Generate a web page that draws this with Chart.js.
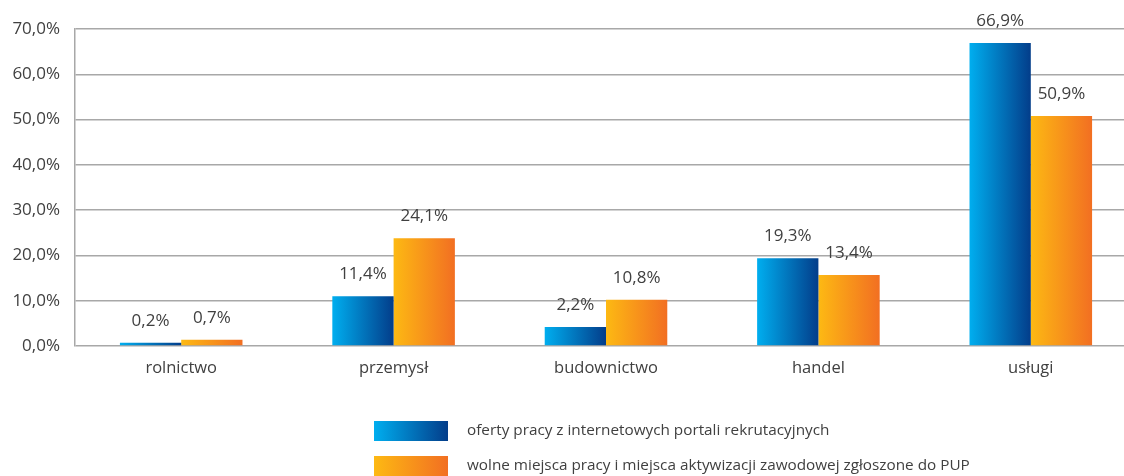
<!DOCTYPE html>
<html>
<head>
<meta charset="utf-8">
<script src="https://cdn.jsdelivr.net/npm/chart.js@4"></script>
<style>
html,body{margin:0;padding:0;background:#fff;overflow:hidden;}
#wrap{position:relative;width:1124px;height:476px;overflow:hidden;}
</style>
</head>
<body>
<div id="wrap"><canvas id="c" width="1140" height="476"></canvas></div>
<script>
const categories = ['rolnictwo', 'przemysł', 'budownictwo', 'handel', 'usługi'];
const seriesNames = ['oferty pracy z internetowych portali rekrutacyjnych', 'wolne miejsca pracy i miejsca aktywizacji zawodowej zgłoszone do PUP'];
const portalValues = [0.7, 11.0, 4.2, 19.4, 66.9];
const pupValues = [1.4, 23.8, 10.2, 15.7, 50.8];
const portalLabels = ['0,2%', '11,4%', '2,2%', '19,3%', '66,9%'];
const pupLabels = ['0,7%', '24,1%', '10,8%', '13,4%', '50,9%'];
const yTicks = [0, 10, 20, 30, 40, 50, 60, 70];

const FONT = '"Open Sans", "DejaVu Sans", sans-serif';
const TEXT = '#404040';
const GRID = '#a8a8a8';
const CAT_PCT = 0.577;
const gradStops = [['#00aeef', '#033d8a'], ['#fdb913', '#f26f22']];

function barGradient(ctx, dsIndex) {
  const chart = ctx.chart;
  const stops = gradStops[dsIndex];
  if (!chart.chartArea || ctx.dataIndex === undefined) return stops[0];
  const xs = chart.scales.x;
  const cw = (xs.right - xs.left) / categories.length;
  const bw = cw * CAT_PCT / 2;
  const cx = xs.getPixelForValue(ctx.dataIndex);
  const left = dsIndex === 0 ? cx - bw : cx;
  const g = chart.ctx.createLinearGradient(left, 0, left + bw, 0);
  g.addColorStop(0, stops[0]);
  g.addColorStop(1, stops[1]);
  return g;
}

const valueLabels = {
  id: 'valueLabels',
  afterDatasetsDraw(chart) {
    const c = chart.ctx;
    const lists = [portalLabels, pupLabels];
    c.save();
    c.font = '17px ' + FONT;
    c.fillStyle = TEXT;
    c.textAlign = 'center';
    c.textBaseline = 'middle';
    chart.data.datasets.forEach((ds, i) => {
      chart.getDatasetMeta(i).data.forEach((el, j) => {
        c.fillText(lists[i][j], el.x, el.y - 22);
      });
    });
    c.restore();
  }
};

const customLegend = {
  id: 'customLegend',
  afterDraw(chart) {
    const c = chart.ctx;
    c.save();
    c.font = '15.3px ' + FONT;
    c.textBaseline = 'middle';
    c.textAlign = 'left';
    const rows = [421, 456];
    seriesNames.forEach((name, i) => {
      const y = rows[i];
      const g = c.createLinearGradient(374, 0, 448, 0);
      g.addColorStop(0, gradStops[i][0]);
      g.addColorStop(1, gradStops[i][1]);
      c.fillStyle = g;
      c.fillRect(374, y, 74, 20);
      c.fillStyle = TEXT;
      c.fillText(name, 467, y + 10);
    });
    c.restore();
  }
};

new Chart(document.getElementById('c'), {
  type: 'bar',
  data: {
    labels: categories,
    datasets: [
      { label: seriesNames[0], data: portalValues, backgroundColor: ctx => barGradient(ctx, 0), borderWidth: 0 },
      { label: seriesNames[1], data: pupValues, backgroundColor: ctx => barGradient(ctx, 1), borderWidth: 0 }
    ]
  },
  options: {
    responsive: false,
    animation: false,
    events: [],
    layout: { padding: { top: 29, right: 3, bottom: 90, left: 0 } },
    datasets: { bar: { categoryPercentage: CAT_PCT, barPercentage: 1.0 } },
    plugins: { legend: { display: false }, tooltip: { enabled: false } },
    scales: {
      x: {
        grid: { display: false, drawTicks: false },
        border: { display: false },
        ticks: { color: TEXT, font: { family: FONT, size: 16.5 }, padding: 12 },
        afterFit: s => { s.height = 40; }
      },
      y: {
        min: 0, max: 70,
        afterBuildTicks: s => { s.ticks = yTicks.map(v => ({ value: v })); },
        grid: { color: GRID, lineWidth: 1.5, drawTicks: false },
        border: { display: true, color: GRID, width: 1.5 },
        ticks: {
          color: TEXT, font: { family: FONT, size: 17 }, padding: 15,
          callback: v => v.toFixed(1).replace('.', ',') + '%'
        },
        afterFit: s => { s.width = 75; }
      }
    }
  },
  plugins: [valueLabels, customLegend]
});
</script>
</body>
</html>
